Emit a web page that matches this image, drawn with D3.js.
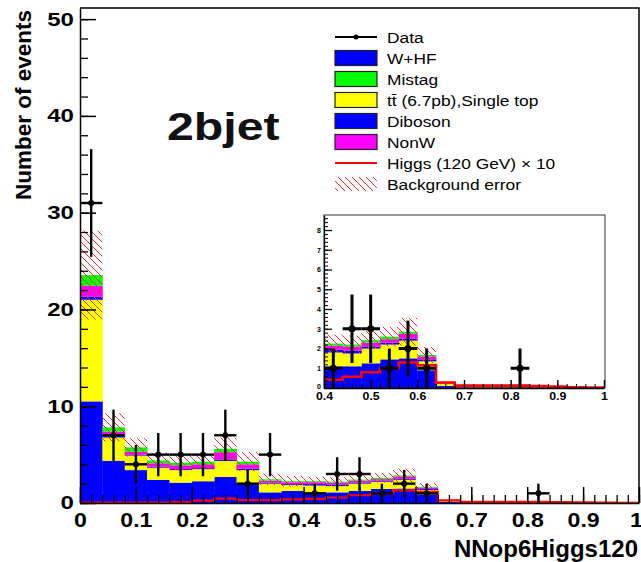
<!DOCTYPE html>
<html>
<head>
<meta charset="utf-8">
<script src="https://cdn.jsdelivr.net/npm/d3@7"></script>
<style>
body { margin: 0; background: #fff; }
text { font-family: "Liberation Sans", Arial, Helvetica, sans-serif; }
</style>
</head>
<body>
<div id="chart"></div>
<script>

// bin lower edges (width 0.04)
const binStart = [0, 0.04, 0.08, 0.12, 0.16, 0.2, 0.24, 0.28, 0.32, 0.36, 0.4, 0.44, 0.48,
                  0.52, 0.56, 0.6, 0.64, 0.68, 0.72, 0.76, 0.8, 0.84, 0.88, 0.92, 0.96];
const binWidth = 0.04;

// stacked backgrounds, bottom to top
const wHF     = [10.5, 4.37, 3.4, 2.4, 2.1, 2.25, 2.7, 1.95, 1.1, 1.25, 1.1, 1.1, 1.25, 1.45, 1.5, 0.9, 0.1, 0.03, 0.03, 0.02, 0.02, 0.02, 0.01, 0.01, 0.01];
const topST   = [10.5, 2.4, 1.5, 1.25, 1.3, 1.25, 1.65, 1.45, 0.9, 0.6, 0.7, 0.65, 0.75, 0.75, 0.9, 0.45, 0.1, 0.02, 0.02, 0.02, 0.01, 0.01, 0.01, 0.01, 0.01];
const diboson = [0.3, 0.15, 0.1, 0.1, 0.1, 0.1, 0.15, 0.15, 0.1, 0.1, 0.15, 0.15, 0.1, 0.1, 0.1, 0.1, 0.02, 0.01, 0.01, 0.01, 0.01, 0.01, 0.0, 0.0, 0.0];
const nonW    = [1.15, 0.45, 0.3, 0.35, 0.4, 0.4, 0.75, 0.45, 0.2, 0.2, 0.2, 0.2, 0.2, 0.17, 0.25, 0.15, 0.03, 0.01, 0.01, 0.01, 0.01, 0.0, 0.0, 0.0, 0.0];
const mistag  = [1.1, 0.45, 0.45, 0.3, 0.27, 0.27, 0.35, 0.27, 0.15, 0.1, 0.1, 0.1, 0.12, 0.13, 0.1, 0.07, 0.02, 0.01, 0.01, 0.01, 0.0, 0.0, 0.0, 0.0, 0.0];
const bkgError = [4.6, 1.45, 0.95, 0.8, 0.75, 0.75, 1.15, 1.0, 0.6, 0.55, 0.45, 0.45, 0.45, 0.5, 0.7, 0.4, 0.08, 0.02, 0.02, 0.02, 0.02, 0.01, 0.01, 0.01, 0.01];
const higgsX10 = [0.05, 0.05, 0.05, 0.05, 0.1, 0.25, 0.45, 0.3, 0.3, 0.38, 0.42, 0.57, 0.8, 1.0, 1.3, 1.15, 0.28, 0.12, 0.12, 0.12, 0.12, 0.1, 0.07, 0.04, 0.02];
const dataCounts = [31, 7, 4, 5, 5, 5, 7, 2, 5, 0, 1, 3, 3, 1, 2, 1, 0, 0, 0, 0, 1, 0, 0, 0, 0];

const yTicks = [0, 10, 20, 30, 40, 50];
const xTicks = [0, 0.1, 0.2, 0.3, 0.4, 0.5, 0.6, 0.7, 0.8, 0.9, 1];
const insetYTicks = [0, 1, 2, 3, 4, 5, 6, 7, 8];
const insetXTicks = [0.4, 0.5, 0.6, 0.7, 0.8, 0.9, 1];

const legendLabels = ["Data", "W+HF", "Mistag", "tt\u0304 (6.7pb),Single top", "Diboson", "NonW",
                      "Higgs (120 GeV) \u00d7 10", "Background error"];
const legendKinds = ["data", "whf", "mis", "top", "dib", "nonw", "higgs", "err"];

const colors = { whf: "#0000ff", top: "#ffff00", dib: "#0000ff", nonw: "#ff00ff", mis: "#00ff00" };
const keys = ["whf", "top", "dib", "nonw", "mis"];

const width = 641, height = 562;

const svg = d3.select("#chart")
    .append("svg")
    .attr("width", width)
    .attr("height", height);

const defs = svg.append("defs");
const hatch = defs.append("pattern")
    .attr("id", "hatch")
    .attr("patternUnits", "userSpaceOnUse")
    .attr("width", 7)
    .attr("height", 7);
hatch.append("path")
    .attr("d", "M0,0L7,7M-1,6L1,8M6,-1L8,1")
    .attr("stroke", "#ff2a2a")
    .attr("stroke-width", 1)
    .attr("fill", "none");

const rows = binStart.map(function(b, i) {
    return { b: b, whf: wHF[i], top: topST[i], dib: diboson[i], nonw: nonW[i], mis: mistag[i] };
});
const series = d3.stack().keys(keys)(rows);
const totals = rows.map(function(r) { return r.whf + r.top + r.dib + r.nonw + r.mis; });

// draws the whole histogram set into g with the given scales
function drawHist(g, x, y, opt) {
    series.forEach(function(s) {
        g.selectAll(null)
            .data(s)
            .enter()
            .append("rect")
            .attr("x", function(d) { return x(d.data.b); })
            .attr("width", function(d) { return x(d.data.b + binWidth) - x(d.data.b) + 0.4; })
            .attr("y", function(d) { return y(d[1]); })
            .attr("height", function(d) { return Math.max(0, y(d[0]) - y(d[1])); })
            .attr("fill", colors[s.key]);
    });

    g.selectAll(null)
        .data(binStart)
        .enter()
        .append("rect")
        .attr("x", function(b) { return x(b); })
        .attr("width", function(b) { return x(b + binWidth) - x(b); })
        .attr("y", function(b, i) { return y(totals[i] + bkgError[i]); })
        .attr("height", function(b, i) { return y(Math.max(0, totals[i] - bkgError[i])) - y(totals[i] + bkgError[i]); })
        .attr("fill", "url(#hatch)");

    const pts = binStart.map(function(b, i) { return [b, higgsX10[i]]; });
    pts.push([1, higgsX10[higgsX10.length - 1]]);
    g.append("path")
        .attr("d", d3.line()
            .x(function(d) { return x(d[0]); })
            .y(function(d) { return y(d[1]); })
            .curve(d3.curveStepAfter)(pts))
        .attr("fill", "none")
        .attr("stroke", "#ff0000")
        .attr("stroke-width", opt.redW);

    const dat = binStart.map(function(b, i) { return { b: b, n: dataCounts[i] }; })
        .filter(function(d) { return d.n > 0; });

    const dg = g.selectAll(null).data(dat).enter().append("g");
    dg.append("line")
        .attr("x1", function(d) { return x(d.b + binWidth / 2); })
        .attr("x2", function(d) { return x(d.b + binWidth / 2); })
        .attr("y1", function(d) { return y(d.n + Math.sqrt(d.n)); })
        .attr("y2", function(d) { return y(d.n - Math.sqrt(d.n)); })
        .attr("stroke", "#000")
        .attr("stroke-width", opt.errW);
    dg.append("line")
        .attr("x1", function(d) { return x(d.b); })
        .attr("x2", function(d) { return x(d.b + binWidth); })
        .attr("y1", function(d) { return y(d.n); })
        .attr("y2", function(d) { return y(d.n); })
        .attr("stroke", "#000")
        .attr("stroke-width", opt.errW);
    dg.append("circle")
        .attr("cx", function(d) { return x(d.b + binWidth / 2); })
        .attr("cy", function(d) { return y(d.n); })
        .attr("r", opt.r)
        .attr("fill", "#000");
}

// ---------- main pad ----------
const margin = { top: 8, left: 80, right: 2, bottom: 59 };

const xScale = d3.scaleLinear()
    .domain([0, 1])
    .range([margin.left, width - margin.right]);

const yScale = d3.scaleLinear()
    .domain([0, 51.15])
    .range([height - margin.bottom, margin.top]);

const main = svg.append("g");
drawHist(main, xScale, yScale, { redW: 2.2, errW: 2.4, r: 3 });

// frame
svg.append("path")
    .attr("d", "M" + xScale(0) + "," + yScale(51.15) + "H" + xScale(1) + "V" + yScale(0))
    .attr("fill", "none")
    .attr("stroke", "#000")
    .attr("stroke-width", 1.5);

function styleAxis(g, w) {
    g.selectAll(".domain").attr("stroke", "#000").attr("stroke-width", w);
    g.selectAll(".tick line").attr("stroke", "#000").attr("stroke-width", w);
}

const yMinor = svg.append("g")
    .attr("transform", "translate(" + margin.left + ",0)")
    .call(d3.axisLeft(yScale).tickValues(d3.range(0, 51, 2)).tickSize(-8).tickFormat(""));
yMinor.select(".domain").remove();
styleAxis(yMinor, 1.3);

const yAxis = svg.append("g")
    .attr("transform", "translate(" + margin.left + ",0)")
    .call(d3.axisLeft(yScale).tickValues(yTicks).tickSize(-16).tickSizeOuter(0).tickPadding(6));
styleAxis(yAxis, 1.5);
yAxis.selectAll("text")
    .attr("x", 0)
    .attr("transform", "translate(-6,0) scale(1.3,1)")
    .attr("font-size", 18.5)
    .attr("font-weight", "bold")
    .attr("fill", "#000");

const xMinor = svg.append("g")
    .attr("transform", "translate(0," + yScale(0) + ")")
    .call(d3.axisBottom(xScale).tickValues(d3.range(0, 1.001, 0.02)).tickSize(-8).tickFormat(""));
xMinor.select(".domain").remove();
styleAxis(xMinor, 1.3);

const xAxis = svg.append("g")
    .attr("transform", "translate(0," + yScale(0) + ")")
    .call(d3.axisBottom(xScale).tickValues(xTicks).tickSize(-16).tickSizeOuter(0).tickPadding(9)
        .tickFormat(function(d) { return d === 0 ? "0" : d === 1 ? "1" : d3.format(".1f")(d); }));
styleAxis(xAxis, 1.5);
xAxis.selectAll("text")
    .attr("transform", function(d) { return d === 1 ? "translate(-3,0) scale(1.1,1)" : "scale(1.1,1)"; })
    .attr("font-size", 21)
    .attr("font-weight", "bold")
    .attr("fill", "#000");

svg.append("text")
    .attr("transform", "translate(31,105) rotate(-90)")
    .attr("text-anchor", "middle")
    .attr("font-size", 22.5)
    .attr("font-weight", "bold")
    .text("Number of events");

svg.append("text")
    .attr("x", 638)
    .attr("y", 557)
    .attr("text-anchor", "end")
    .attr("font-size", 24)
    .attr("font-weight", "bold")
    .text("NNop6Higgs120");

svg.append("text")
    .attr("transform", "translate(167,140) scale(1.27,1)")
    .attr("font-size", 38)
    .attr("font-weight", "bold")
    .attr("fill", "#111")
    .text("2bjet");

// ---------- legend ----------
const legend = svg.append("g");
legendLabels.forEach(function(label, i) {
    const cy = 37 + i * 21;
    const kind = legendKinds[i];
    if (kind === "data") {
        legend.append("line").attr("x1", 335).attr("x2", 377).attr("y1", cy).attr("y2", cy)
            .attr("stroke", "#000").attr("stroke-width", 2);
        legend.append("circle").attr("cx", 356).attr("cy", cy).attr("r", 2.5).attr("fill", "#000");
    } else if (kind === "higgs") {
        legend.append("line").attr("x1", 335).attr("x2", 377).attr("y1", cy).attr("y2", cy)
            .attr("stroke", "#ff0000").attr("stroke-width", 2);
    } else if (kind === "err") {
        legend.append("rect").attr("x", 335).attr("y", cy - 7).attr("width", 42).attr("height", 14)
            .attr("fill", "url(#hatch)");
    } else {
        legend.append("rect").attr("x", 335).attr("y", cy - 7.5).attr("width", 42).attr("height", 15)
            .attr("fill", colors[kind]).attr("stroke", "#222").attr("stroke-width", 1.2);
    }
    legend.append("text")
        .attr("transform", "translate(387," + cy + ") scale(1.12,1)")
        .attr("dy", "0.36em")
        .attr("font-size", 15.5)
        .text(label);
});

// ---------- inset ----------
const ix = d3.scaleLinear().domain([0.4, 1]).range([324, 604]);
const iy = d3.scaleLinear().domain([0, 8.76]).range([388, 215]);

svg.append("rect")
    .attr("x", 324).attr("y", 215).attr("width", 281).attr("height", 173)
    .attr("fill", "#fff");

defs.append("clipPath").attr("id", "insetClip")
    .append("rect").attr("x", 324).attr("y", 215).attr("width", 281).attr("height", 173);

const inset = svg.append("g").attr("clip-path", "url(#insetClip)");
drawHist(inset, ix, iy, { redW: 2.6, errW: 3, r: 3.5 });

svg.append("rect")
    .attr("x", 324).attr("y", 215).attr("width", 281).attr("height", 173)
    .attr("fill", "none").attr("stroke", "#333").attr("stroke-width", 1);

const iyMinor = svg.append("g")
    .attr("transform", "translate(324,0)")
    .call(d3.axisLeft(iy).tickValues(d3.range(0, 8.7, 0.2)).tickSize(-4).tickFormat(""));
iyMinor.select(".domain").remove();
styleAxis(iyMinor, 1);

const iyAxis = svg.append("g")
    .attr("transform", "translate(324,0)")
    .call(d3.axisLeft(iy).tickValues(insetYTicks).tickSize(-8).tickSizeOuter(0).tickPadding(3));
styleAxis(iyAxis, 1.2);
iyAxis.selectAll("text")
    .attr("y", function(d) { return d === 0 ? -2 : 0; })
    .attr("font-size", 7)
    .attr("font-weight", "bold")
    .attr("fill", "#000");

const ixMinor = svg.append("g")
    .attr("transform", "translate(0,388)")
    .call(d3.axisBottom(ix).tickValues(d3.range(0.4, 1.001, 0.02)).tickSize(-4).tickFormat(""));
ixMinor.select(".domain").remove();
styleAxis(ixMinor, 1);

const ixAxis = svg.append("g")
    .attr("transform", "translate(0,388)")
    .call(d3.axisBottom(ix).tickValues(insetXTicks).tickSize(-8).tickSizeOuter(0).tickPadding(4)
        .tickFormat(function(d) { return d === 1 ? "1" : d3.format(".1f")(d); }));
styleAxis(ixAxis, 1.4);
ixAxis.selectAll("text")
    .attr("transform", "scale(1.12,1)")
    .attr("font-size", 11)
    .attr("font-weight", "bold")
    .attr("fill", "#000");

</script>
</body>
</html>
